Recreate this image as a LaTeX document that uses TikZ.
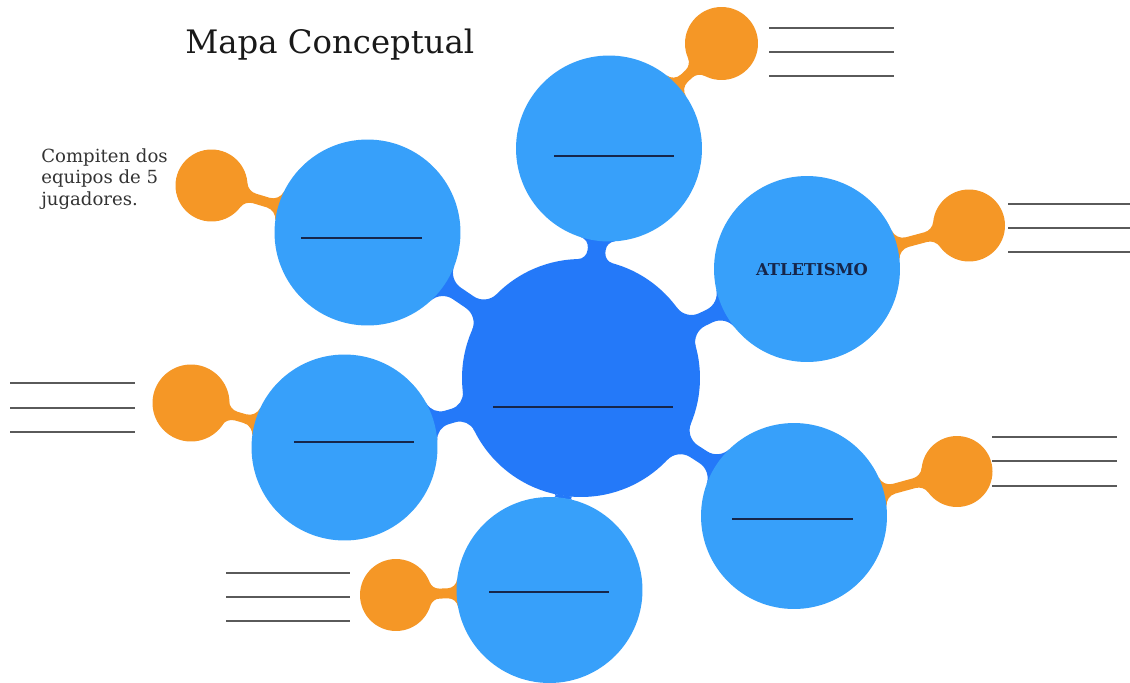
\documentclass[tikz,border=0pt]{standalone}
\usepackage{fontspec}
\setmainfont{DejaVu Serif}
\usetikzlibrary{backgrounds}
\definecolor{cblue}{HTML}{2479F9}
\definecolor{oblue}{HTML}{37A0FA}
\definecolor{orng}{HTML}{F59726}
\definecolor{lgray}{HTML}{5A5A5A}
\definecolor{navy}{HTML}{16264A}
\definecolor{txtgray}{HTML}{333333}
\def\pxpt{0.569055}
% neck with circular fillets
% #1 node A, #2 node B, #3 rA px, #4 rB px, #5 fillet radius px, #6 half neck px, #7 colour
\newcommand\necklink[7]{%
 \pgfmathanglebetweenpoints{\pgfpointanchor{#1}{center}}{\pgfpointanchor{#2}{center}}%
 \let\nkang\pgfmathresult
 \pgfpointdiff{\pgfpointanchor{#1}{center}}{\pgfpointanchor{#2}{center}}%
 \pgfgetlastxy\nkx\nky
 \pgfmathsetmacro\nkL{veclen(\nkx,\nky)}%
 \pgfmathsetmacro\nkrA{#3*\pxpt}%
 \pgfmathsetmacro\nkrB{#4*\pxpt}%
 \pgfmathsetmacro\nkR{#5*\pxpt}%
 \pgfmathsetmacro\nkh{#6*\pxpt}%
 \pgfmathsetmacro\nkhR{\nkh+\nkR}%
 \pgfmathsetmacro\nkxA{sqrt((\nkrA+\nkR)^2-(\nkhR)^2)}%
 \pgfmathsetmacro\nkxB{\nkL-sqrt((\nkrB+\nkR)^2-(\nkhR)^2)}%
 \pgfmathsetmacro\nkthA{atan2(-\nkhR,-\nkxA)}%
 \pgfmathsetmacro\nkthB{atan2(-\nkhR,\nkL-\nkxB)}%
 \pgfmathsetmacro\nksA{\nkthA+360}%
 \pgfmathsetmacro\nksB{\nkthB+360}%
 \pgfmathsetmacro\nkmA{-\nkthA}%
 \pgfmathsetmacro\nkmB{-\nkthB}%
 \pgfmathsetmacro\nkPAx{\nkxA+\nkR*cos(\nkthA)}%
 \pgfmathsetmacro\nkPAy{\nkhR+\nkR*sin(\nkthA)}%
 \pgfmathsetmacro\nkPBx{\nkxB+\nkR*cos(\nkthB)}%
 \pgfmathsetmacro\nkPBy{\nkhR+\nkR*sin(\nkthB)}%
 \begin{scope}[shift={(#1.center)},rotate=\nkang]
  \fill[#7] (\nkPAx pt,\nkPAy pt)
    arc[start angle=\nksA,end angle=270,radius=\nkR pt]
    -- (\nkxB pt,\nkh pt)
    arc[start angle=270,end angle=\nksB,radius=\nkR pt]
    -- (\nkPBx pt,-\nkPBy pt)
    arc[start angle=\nkmB,end angle=90,radius=\nkR pt]
    -- (\nkxA pt,-\nkh pt)
    arc[start angle=90,end angle=\nkmA,radius=\nkR pt]
    -- cycle;
 \end{scope}}
\begin{document}
\begin{tikzpicture}[x=0.02cm,y=-0.02cm,
  bigc/.style={circle,fill=cblue,inner sep=0pt,minimum size=4.76cm},
  outc/.style={circle,fill=oblue,inner sep=0pt,minimum size=3.72cm},
  orc/.style={circle,fill=orng,inner sep=0pt,minimum size=#1},
  orc/.default=1.44cm,
  wline/.style={draw=lgray,line width=0.85pt},
  iline/.style={draw=navy,line width=0.8pt}]
\useasboundingbox (0,0) rectangle (1130,683);

% blue circles
\node[bigc] (c) at (581,378) {};
\node[outc] (t) at (609,148.5) {};
\node[outc] (ul) at (367.5,232.5) {};
\node[outc] (r) at (807,269) {};
\node[outc] (l) at (344.5,447.5) {};
\node[outc] (b) at (549.5,590) {};
\node[outc] (lr) at (794,516) {};
% orange circles
\node[orc=1.46cm] (ot) at (721.5,43.5) {};
\node[orc] (oul) at (211.5,185.5) {};
\node[orc] (or) at (969,225.5) {};
\node[orc=1.54cm] (ol) at (191,403) {};
\node[orc] (ob) at (396,595) {};
\node[orc=1.42cm] (olr) at (957,471.5) {};

\begin{pgfonlayer}{background}
\fill[white] (0,0) rectangle (1130,683);
\necklink{c}{t}{119}{93}{10}{9}{cblue}
\necklink{c}{ul}{119}{93}{18}{7}{cblue}
\necklink{c}{r}{119}{93}{18}{7}{cblue}
\necklink{c}{l}{119}{93}{16}{7}{cblue}
\necklink{c}{lr}{119}{93}{18}{7}{cblue}
\necklink{c}{b}{119}{93}{1}{8}{cblue}
\necklink{ot}{t}{36.5}{93}{11}{5}{orng}
\necklink{oul}{ul}{36}{93}{12}{5}{orng}
\necklink{or}{r}{36}{93}{12}{5}{orng}
\necklink{ol}{l}{38}{93}{12}{4.5}{orng}
\necklink{ob}{b}{36}{93}{10}{5}{orng}
\necklink{olr}{lr}{35.5}{93}{12}{5}{orng}
\end{pgfonlayer}

% lines inside circles
\draw[iline] (554,156) -- (674,156);
\draw[iline] (301,238) -- (422,238);
\draw[iline] (493,407) -- (673,407);
\draw[iline] (294,442) -- (414,442);
\draw[iline] (732,519) -- (853,519);
\draw[iline] (489,592) -- (609,592);

% writing lines
\foreach \yy in {28,52,76} \draw[wline] (769,\yy) -- (894,\yy);
\foreach \yy in {204,228,252} \draw[wline] (1008,\yy) -- (1130,\yy);
\foreach \yy in {383,408,432} \draw[wline] (10,\yy) -- (135,\yy);
\foreach \yy in {437,461,486} \draw[wline] (992,\yy) -- (1117,\yy);
\foreach \yy in {573,597,621} \draw[wline] (226,\yy) -- (350,\yy);

% texts
\node[anchor=base west,inner sep=0pt,text=black!90,font=\fontsize{18.4}{21}\selectfont] (title) at (185,53) {Mapa Conceptual};
\node[anchor=north west,inner sep=0pt,align=left,text=txtgray,font=\fontsize{10.3}{12.4}\selectfont] (txt) at (41,148) {Compiten dos\\equipos de 5\\jugadores.};
\node[inner sep=0pt,text=navy,font=\bfseries\fontsize{9.3}{12}\selectfont] (atl) at (812,269.4) {ATLETISMO};
\end{tikzpicture}
\end{document}
